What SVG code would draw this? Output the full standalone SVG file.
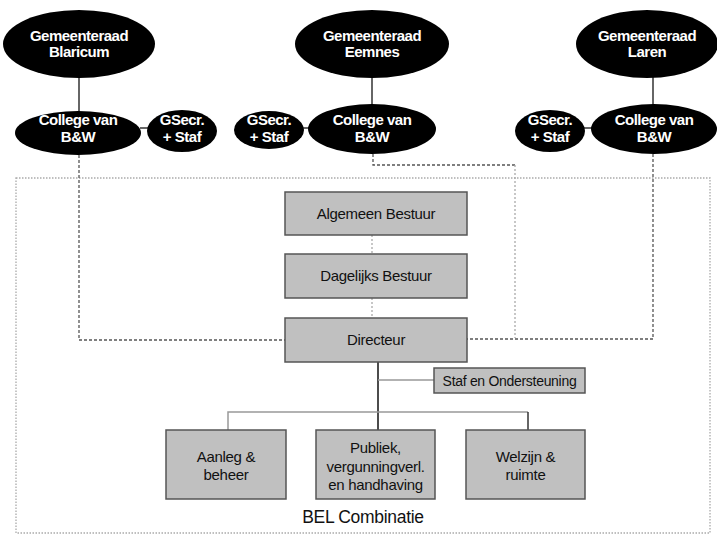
<svg xmlns="http://www.w3.org/2000/svg" width="717" height="536" viewBox="0 0 717 536">
<style>
.ell{fill:#000}
.et{font-family:"Liberation Sans",Arial,sans-serif;font-weight:bold;font-size:15px;fill:#fff;text-anchor:middle;letter-spacing:-0.5px}
.box{fill:#c0c0c0;stroke:#555;stroke-width:1.5}
.bt{font-family:"Liberation Sans",Arial,sans-serif;font-size:15px;fill:#111;text-anchor:middle;letter-spacing:-0.3px}
.solid{stroke:#333;stroke-width:1.5;fill:none}
.thin{stroke:#999;stroke-width:1.5;fill:none}
.dash{stroke:#555;stroke-width:1.3;stroke-dasharray:3 2;fill:none}
.dot{stroke:#aaa;stroke-width:1.3;stroke-dasharray:2 2;fill:none}
.frame{stroke:#aaa;stroke-width:1.3;stroke-dasharray:1.5 1.5;fill:none}
</style>
<g id="frame"><rect class="frame" x="16" y="178" width="694" height="355"/></g>
<g id="connectors">
<line class="solid" x1="79" y1="76" x2="79" y2="114"/>
<line class="solid" x1="372" y1="76" x2="372" y2="105"/>
<line class="solid" x1="653" y1="76" x2="653" y2="105"/>
<line class="solid" x1="140" y1="128" x2="149" y2="128"/>
<line class="solid" x1="302" y1="128" x2="310" y2="128"/>
<line class="solid" x1="583" y1="128" x2="593" y2="128"/>
<polyline class="dash" points="79,155 79,340 285,340"/>
<polyline class="dash" points="653,154 653,339 467,339"/>
<polyline class="dash" points="373,154 373,165 515,165"/>
<line class="dot" x1="515" y1="165" x2="515" y2="338"/>
<line class="dot" x1="372" y1="235" x2="372" y2="254"/>
<line class="dot" x1="372" y1="298" x2="372" y2="318"/>
<line class="solid" x1="378" y1="362" x2="378" y2="430" style="stroke:#111"/>
<line class="thin" x1="378" y1="380" x2="434" y2="380"/>
<polyline class="thin" points="228,430 228,412 528,412"/>
<line class="solid" x1="528" y1="412" x2="528" y2="430"/>
</g>
<g id="gr-blaricum"><ellipse class="ell" cx="79" cy="44" rx="76" ry="34"/><text class="et" x="79" y="41">Gemeenteraad</text><text class="et" x="79" y="57">Blaricum</text></g>
<g id="gr-eemnes"><ellipse class="ell" cx="372" cy="44" rx="77" ry="34"/><text class="et" x="372" y="41">Gemeenteraad</text><text class="et" x="372" y="57">Eemnes</text></g>
<g id="gr-laren"><ellipse class="ell" cx="647" cy="44" rx="71" ry="34"/><text class="et" x="647" y="41">Gemeenteraad</text><text class="et" x="647" y="57">Laren</text></g>
<g id="bw-blaricum"><ellipse class="ell" cx="78" cy="133" rx="63" ry="22"/><text class="et" x="78" y="125">College van</text><text class="et" x="78" y="142">B&amp;W</text></g>
<g id="bw-eemnes"><ellipse class="ell" cx="372" cy="129" rx="64" ry="25"/><text class="et" x="372" y="125">College van</text><text class="et" x="372" y="142">B&amp;W</text></g>
<g id="bw-laren"><ellipse class="ell" cx="654" cy="129" rx="63" ry="25"/><text class="et" x="654" y="125">College van</text><text class="et" x="654" y="142">B&amp;W</text></g>
<g id="gs-blaricum"><ellipse class="ell" cx="182" cy="131" rx="35" ry="21"/><text class="et" x="182" y="125">GSecr.</text><text class="et" x="182" y="142">+ Staf</text></g>
<g id="gs-eemnes"><ellipse class="ell" cx="269" cy="130" rx="35" ry="19"/><text class="et" x="269" y="125">GSecr.</text><text class="et" x="269" y="142">+ Staf</text></g>
<g id="gs-laren"><ellipse class="ell" cx="550" cy="131" rx="35" ry="21"/><text class="et" x="550" y="125">GSecr.</text><text class="et" x="550" y="142">+ Staf</text></g>
<g id="ab"><rect class="box" x="285" y="192" width="182" height="43"/><text class="bt" x="376" y="219">Algemeen Bestuur</text></g>
<g id="db"><rect class="box" x="285" y="254" width="182" height="44"/><text class="bt" x="376" y="281">Dagelijks Bestuur</text></g>
<g id="dir"><rect class="box" x="285" y="318" width="182" height="44"/><text class="bt" x="376" y="345">Directeur</text></g>
<g id="staf"><rect class="box" x="434" y="368" width="151" height="25"/><text class="bt" x="509.5" y="386" style="font-size:14px">Staf en Ondersteuning</text></g>
<g id="aanleg"><rect class="box" x="166" y="430" width="120" height="69"/><text class="bt" x="226" y="462">Aanleg &amp;</text><text class="bt" x="226" y="480">beheer</text></g>
<g id="publiek"><rect class="box" x="316" y="430" width="119" height="69"/><text class="bt" x="375.5" y="453">Publiek,</text><text class="bt" x="375.5" y="471.5">vergunningverl.</text><text class="bt" x="375.5" y="490">en handhaving</text></g>
<g id="welzijn"><rect class="box" x="466" y="430" width="119" height="69"/><text class="bt" x="525.5" y="462">Welzijn &amp;</text><text class="bt" x="525.5" y="480">ruimte</text></g>
<text x="363" y="523" style="font-family:'Liberation Sans',Arial,sans-serif;font-size:17.5px;fill:#111;text-anchor:middle;letter-spacing:-0.3px">BEL Combinatie</text>
</svg>
